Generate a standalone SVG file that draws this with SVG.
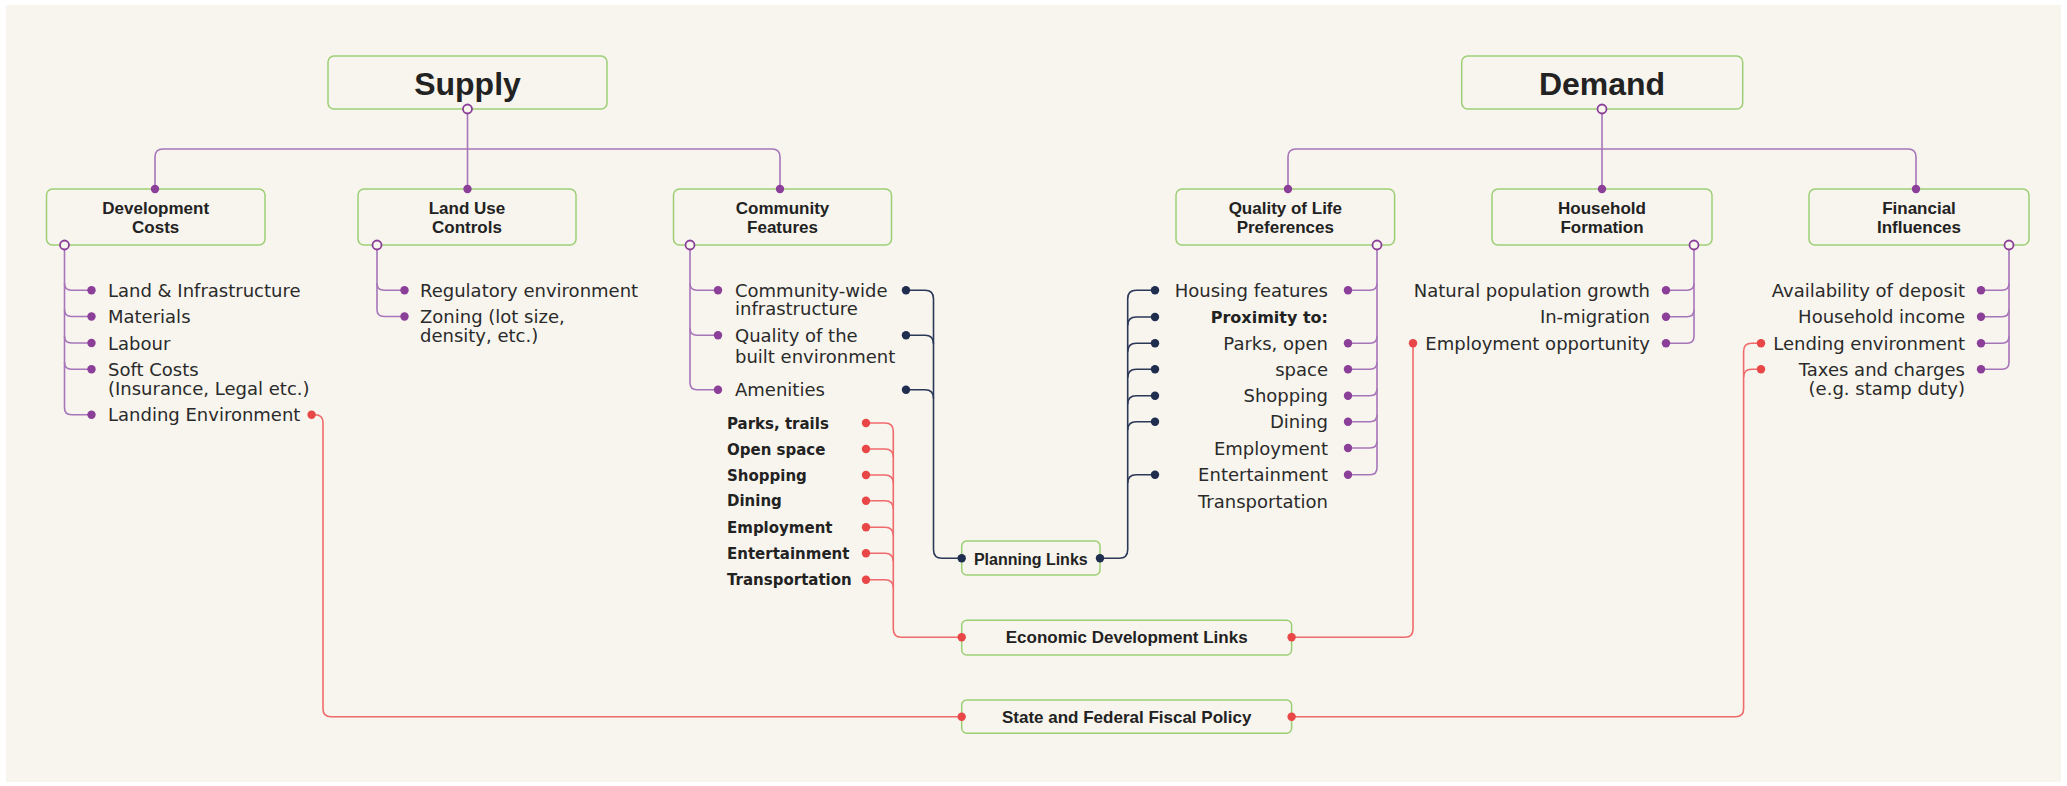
<svg xmlns="http://www.w3.org/2000/svg" width="2067" height="786" viewBox="0 0 2067 786">
<style>
.bg{fill:#f8f5ee}
.box{fill:#f8f5ee;stroke:#9ccf74;stroke-width:1.5}
.hdr{font-family:"Liberation Sans",Arial,sans-serif;font-weight:bold;font-size:32px;fill:#222;text-anchor:middle}
.nl{font-family:"Liberation Sans",Arial,sans-serif;font-weight:bold;font-size:17px;fill:#222;text-anchor:middle}
.t{font-family:"DejaVu Sans",sans-serif;font-size:18px;fill:#2a2a2a}
.r{text-anchor:end}
.b15{font-family:"DejaVu Sans",sans-serif;font-weight:bold;font-size:15px;fill:#222}
.b16{font-family:"DejaVu Sans",sans-serif;font-weight:bold;font-size:16px;fill:#222}
.pl{fill:none;stroke:#a775b9;stroke-width:1.6}
.nv{fill:none;stroke:#2b3858;stroke-width:1.6}
.rd{fill:none;stroke:#ef6b6b;stroke-width:1.6}
.pd{fill:#8b3f99}
.nd{fill:#1f2d4e}
.rdd{fill:#e94747}
.oc{fill:#f8f5ee;stroke:#8b3f99;stroke-width:1.8}
</style>
<rect x="0" y="0" width="2067" height="786" fill="#ffffff"/>
<rect class="bg" x="6" y="5" width="2055" height="777"/>

<g id="supply">
  <rect class="box" x="328" y="56" width="279" height="53" rx="6"/>
  <text class="hdr" x="467.5" y="94.5">Supply</text>
</g>
<g id="demand">
  <rect class="box" x="1461.7" y="56" width="281" height="53" rx="6"/>
  <text class="hdr" x="1602" y="94.5">Demand</text>
</g>

<g id="development-costs">
  <rect class="box" x="46.5" y="189" width="218.5" height="56" rx="6"/>
  <text class="nl" x="155.7" y="213.5">Development</text>
  <text class="nl" x="155.7" y="232.7">Costs</text>
  <text class="t" x="108" y="296.8">Land &amp; Infrastructure</text>
  <text class="t" x="108" y="323">Materials</text>
  <text class="t" x="108" y="349.5">Labour</text>
  <text class="t" x="108" y="375.8">Soft Costs</text>
  <text class="t" x="108" y="394.5">(Insurance, Legal etc.)</text>
  <text class="t" x="108" y="421.2">Landing Environment</text>
</g>

<g id="land-use-controls">
  <rect class="box" x="358" y="189" width="218" height="56" rx="6"/>
  <text class="nl" x="467" y="213.5">Land Use</text>
  <text class="nl" x="467" y="232.7">Controls</text>
  <text class="t" x="420" y="296.8">Regulatory environment</text>
  <text class="t" x="420" y="323">Zoning (lot size,</text>
  <text class="t" x="420" y="341.5">density, etc.)</text>
</g>

<g id="community-features">
  <rect class="box" x="673.5" y="189" width="218" height="56" rx="6"/>
  <text class="nl" x="782.5" y="213.5">Community</text>
  <text class="nl" x="782.5" y="232.7">Features</text>
  <text class="t" x="735" y="296.8">Community-wide</text>
  <text class="t" x="735" y="315.3">infrastructure</text>
  <text class="t" x="735" y="341.8">Quality of the</text>
  <text class="t" x="735" y="362.5">built environment</text>
  <text class="t" x="735" y="396">Amenities</text>
  <text class="b15" x="727" y="428.5">Parks, trails</text>
  <text class="b15" x="727" y="454.5">Open space</text>
  <text class="b15" x="727" y="480.5">Shopping</text>
  <text class="b15" x="727" y="506.2">Dining</text>
  <text class="b15" x="727" y="532.8">Employment</text>
  <text class="b15" x="727" y="558.8">Entertainment</text>
  <text class="b15" x="727" y="585.2">Transportation</text>
</g>

<g id="quality-of-life">
  <rect class="box" x="1176" y="189" width="218.6" height="56" rx="6"/>
  <text class="nl" x="1285.3" y="213.5">Quality of Life</text>
  <text class="nl" x="1285.3" y="232.7">Preferences</text>
  <text class="t r" x="1328" y="296.8">Housing features</text>
  <text class="b16 r" x="1328" y="322.8">Proximity to:</text>
  <text class="t r" x="1328" y="349.8">Parks, open</text>
  <text class="t r" x="1328" y="375.8">space</text>
  <text class="t r" x="1328" y="402.2">Shopping</text>
  <text class="t r" x="1328" y="428.2">Dining</text>
  <text class="t r" x="1328" y="454.5">Employment</text>
  <text class="t r" x="1328" y="481.2">Entertainment</text>
  <text class="t r" x="1328" y="507.5">Transportation</text>
</g>

<g id="household-formation">
  <rect class="box" x="1492" y="189" width="220" height="56" rx="6"/>
  <text class="nl" x="1602" y="213.5">Household</text>
  <text class="nl" x="1602" y="232.7">Formation</text>
  <text class="t r" x="1650" y="296.8">Natural population growth</text>
  <text class="t r" x="1650" y="323.2">In-migration</text>
  <text class="t r" x="1650" y="349.8">Employment opportunity</text>
</g>

<g id="financial-influences">
  <rect class="box" x="1809" y="189" width="220" height="56" rx="6"/>
  <text class="nl" x="1919" y="213.5">Financial</text>
  <text class="nl" x="1919" y="232.7">Influences</text>
  <text class="t r" x="1965" y="296.8">Availability of deposit</text>
  <text class="t r" x="1965" y="323.2">Household income</text>
  <text class="t r" x="1965" y="349.8">Lending environment</text>
  <text class="t r" x="1965" y="375.8">Taxes and charges</text>
  <text class="t r" x="1965" y="395">(e.g. stamp duty)</text>
</g>

<g id="planning-links">
  <rect class="box" x="961.7" y="541" width="138.3" height="34" rx="5"/>
  <text class="nl" x="1030.8" y="564.5" style="font-size:16px">Planning Links</text>
</g>
<g id="economic-development-links">
  <rect class="box" x="961.7" y="620.3" width="329.9" height="34.7" rx="5"/>
  <text class="nl" x="1126.7" y="643.3">Economic Development Links</text>
</g>
<g id="state-federal-fiscal-policy">
  <rect class="box" x="961.7" y="700" width="329.9" height="33.3" rx="5"/>
  <text class="nl" x="1126.7" y="723.3">State and Federal Fiscal Policy</text>
</g>

<g id="connectors">
  <!-- Supply tree -->
  <path class="pl" d="M467.5,113.5 V189"/>
  <path class="pl" d="M155,189 V157 Q155,149 163,149 H772 Q780,149 780,157 V189"/>
  <!-- Demand tree -->
  <path class="pl" d="M1602,113.5 V189"/>
  <path class="pl" d="M1288,189 V157 Q1288,149 1296,149 H1908 Q1916,149 1916,157 V189"/>
  <!-- Development costs items -->
  <path class="pl" d="M64.5,249.5 V407.7 Q64.5,414.7 71.5,414.7 H91.5"/>
  <path class="pl" d="M64.5,283.3 Q64.5,290.3 71.5,290.3 H91.5"/>
  <path class="pl" d="M64.5,309.5 Q64.5,316.5 71.5,316.5 H91.5"/>
  <path class="pl" d="M64.5,336 Q64.5,343 71.5,343 H91.5"/>
  <path class="pl" d="M64.5,362.3 Q64.5,369.3 71.5,369.3 H91.5"/>
  <!-- Land use items -->
  <path class="pl" d="M377,249.5 V309.5 Q377,316.5 384,316.5 H404.5"/>
  <path class="pl" d="M377,283.3 Q377,290.3 384,290.3 H404.5"/>
  <!-- Community features items -->
  <path class="pl" d="M690,249.5 V382.7 Q690,389.7 697,389.7 H718"/>
  <path class="pl" d="M690,283.3 Q690,290.3 697,290.3 H718"/>
  <path class="pl" d="M690,328.3 Q690,335.3 697,335.3 H718"/>
  <!-- Quality of life items -->
  <path class="pl" d="M1377,249.5 V467.7 Q1377,474.7 1370,474.7 H1348"/>
  <path class="pl" d="M1377,283.3 Q1377,290.3 1370,290.3 H1348"/>
  <path class="pl" d="M1377,336.3 Q1377,343.3 1370,343.3 H1348"/>
  <path class="pl" d="M1377,362.3 Q1377,369.3 1370,369.3 H1348"/>
  <path class="pl" d="M1377,388.7 Q1377,395.7 1370,395.7 H1348"/>
  <path class="pl" d="M1377,414.7 Q1377,421.7 1370,421.7 H1348"/>
  <path class="pl" d="M1377,441 Q1377,448 1370,448 H1348"/>
  <!-- Household items -->
  <path class="pl" d="M1694,249.5 V336.3 Q1694,343.3 1687,343.3 H1666"/>
  <path class="pl" d="M1694,283.3 Q1694,290.3 1687,290.3 H1666"/>
  <path class="pl" d="M1694,309.7 Q1694,316.7 1687,316.7 H1666"/>
  <!-- Financial items -->
  <path class="pl" d="M2009,249.5 V362.3 Q2009,369.3 2002,369.3 H1981"/>
  <path class="pl" d="M2009,283.3 Q2009,290.3 2002,290.3 H1981"/>
  <path class="pl" d="M2009,309.7 Q2009,316.7 2002,316.7 H1981"/>
  <path class="pl" d="M2009,336.3 Q2009,343.3 2002,343.3 H1981"/>

  <!-- Planning links (navy) -->
  <path class="nv" d="M906,290.3 H925 Q933.5,290.3 933.5,298.8 V549.8 Q933.5,558.3 942,558.3 H961.7"/>
  <path class="nv" d="M906,335.3 H925 Q933.5,335.3 933.5,343.8"/>
  <path class="nv" d="M906,389.7 H925 Q933.5,389.7 933.5,398.2"/>
  <path class="nv" d="M1100,558.3 H1119.2 Q1127.7,558.3 1127.7,549.8 V298.8 Q1127.7,290.3 1136.2,290.3 H1155"/>
  <path class="nv" d="M1127.7,325.5 Q1127.7,317 1136.2,317 H1155"/>
  <path class="nv" d="M1127.7,351.8 Q1127.7,343.3 1136.2,343.3 H1155"/>
  <path class="nv" d="M1127.7,377.8 Q1127.7,369.3 1136.2,369.3 H1155"/>
  <path class="nv" d="M1127.7,404.2 Q1127.7,395.7 1136.2,395.7 H1155"/>
  <path class="nv" d="M1127.7,430.2 Q1127.7,421.7 1136.2,421.7 H1155"/>
  <path class="nv" d="M1127.7,483.2 Q1127.7,474.7 1136.2,474.7 H1155"/>

  <!-- Economic development links (red) -->
  <path class="rd" d="M866,423 H885 Q893.3,423 893.3,431.3 V629 Q893.3,637.3 901.6,637.3 H961.7"/>
  <path class="rd" d="M866,449 H885 Q893.3,449 893.3,457.3"/>
  <path class="rd" d="M866,475 H885 Q893.3,475 893.3,483.3"/>
  <path class="rd" d="M866,500.7 H885 Q893.3,500.7 893.3,509"/>
  <path class="rd" d="M866,527.3 H885 Q893.3,527.3 893.3,535.6"/>
  <path class="rd" d="M866,553.3 H885 Q893.3,553.3 893.3,561.6"/>
  <path class="rd" d="M866,579.7 H885 Q893.3,579.7 893.3,588"/>
  <path class="rd" d="M1291.6,637.3 H1404.8 Q1413,637.3 1413,629 V343.3"/>

  <!-- State and federal fiscal policy (red) -->
  <path class="rd" d="M311.6,414.7 H315 Q323,414.7 323,422.7 V708.7 Q323,716.7 331,716.7 H961.7"/>
  <path class="rd" d="M1291.6,716.7 H1735.6 Q1743.6,716.7 1743.6,708.7 V351.3 Q1743.6,343.3 1751.6,343.3 H1761"/>
  <path class="rd" d="M1743.6,377.3 Q1743.6,369.3 1751.6,369.3 H1761"/>

  <!-- open circles -->
  <g class="oc">
    <circle cx="467.5" cy="109" r="4.5"/><circle cx="1602" cy="109" r="4.5"/>
    <circle cx="64.5" cy="245" r="4.5"/><circle cx="377" cy="245" r="4.5"/><circle cx="690" cy="245" r="4.5"/>
    <circle cx="1377" cy="245" r="4.5"/><circle cx="1694" cy="245" r="4.5"/><circle cx="2009" cy="245" r="4.5"/>
  </g>
  <!-- dots -->
  <g class="pd">
    <circle cx="155" cy="189" r="4.2"/><circle cx="467.5" cy="189" r="4.2"/><circle cx="780" cy="189" r="4.2"/>
    <circle cx="1288" cy="189" r="4.2"/><circle cx="1602" cy="189" r="4.2"/><circle cx="1916" cy="189" r="4.2"/>
    <circle cx="91.5" cy="290.3" r="4.2"/><circle cx="91.5" cy="316.5" r="4.2"/><circle cx="91.5" cy="343" r="4.2"/><circle cx="91.5" cy="369.3" r="4.2"/><circle cx="91.5" cy="414.7" r="4.2"/>
    <circle cx="404.5" cy="290.3" r="4.2"/><circle cx="404.5" cy="316.5" r="4.2"/>
    <circle cx="718" cy="290.3" r="4.2"/><circle cx="718" cy="335.3" r="4.2"/><circle cx="718" cy="389.7" r="4.2"/>
    <circle cx="1348" cy="290.3" r="4.2"/><circle cx="1348" cy="343.3" r="4.2"/><circle cx="1348" cy="369.3" r="4.2"/><circle cx="1348" cy="395.7" r="4.2"/><circle cx="1348" cy="421.7" r="4.2"/><circle cx="1348" cy="448" r="4.2"/><circle cx="1348" cy="474.7" r="4.2"/>
    <circle cx="1666" cy="290.3" r="4.2"/><circle cx="1666" cy="316.7" r="4.2"/><circle cx="1666" cy="343.3" r="4.2"/>
    <circle cx="1981" cy="290.3" r="4.2"/><circle cx="1981" cy="316.7" r="4.2"/><circle cx="1981" cy="343.3" r="4.2"/><circle cx="1981" cy="369.3" r="4.2"/>
  </g>
  <g class="nd">
    <circle cx="906" cy="290.3" r="4.2"/><circle cx="906" cy="335.3" r="4.2"/><circle cx="906" cy="389.7" r="4.2"/>
    <circle cx="961.7" cy="558.3" r="4.2"/><circle cx="1100" cy="558.3" r="4.2"/>
    <circle cx="1155" cy="290.3" r="4.2"/><circle cx="1155" cy="317" r="4.2"/><circle cx="1155" cy="343.3" r="4.2"/><circle cx="1155" cy="369.3" r="4.2"/><circle cx="1155" cy="395.7" r="4.2"/><circle cx="1155" cy="421.7" r="4.2"/><circle cx="1155" cy="474.7" r="4.2"/>
  </g>
  <g class="rdd">
    <circle cx="866" cy="423" r="4.2"/><circle cx="866" cy="449" r="4.2"/><circle cx="866" cy="475" r="4.2"/><circle cx="866" cy="500.7" r="4.2"/><circle cx="866" cy="527.3" r="4.2"/><circle cx="866" cy="553.3" r="4.2"/><circle cx="866" cy="579.7" r="4.2"/>
    <circle cx="961.7" cy="637.3" r="4.2"/><circle cx="1291.6" cy="637.3" r="4.2"/>
    <circle cx="1413" cy="343.3" r="4.2"/>
    <circle cx="311.6" cy="414.7" r="4.2"/>
    <circle cx="961.7" cy="716.7" r="4.2"/><circle cx="1291.6" cy="716.7" r="4.2"/>
    <circle cx="1761" cy="343.3" r="4.2"/><circle cx="1761" cy="369.3" r="4.2"/>
  </g>
</g>
</svg>
